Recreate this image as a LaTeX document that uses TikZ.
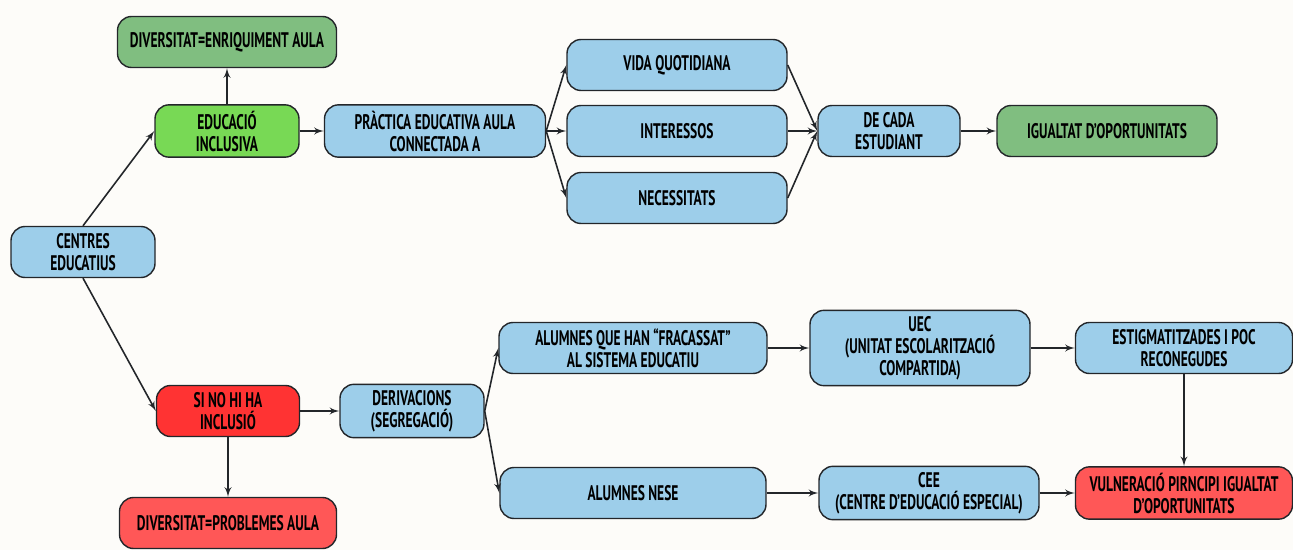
\documentclass[tikz,border=0pt]{standalone}
\usepackage{fontspec}
\newfontfamily\handfont{PT Sans}[FakeStretch=0.64]
\usetikzlibrary{shapes}
\usetikzlibrary{arrows}
\definecolor{paper}{RGB}{253,252,249}
\definecolor{skyblue}{RGB}{157,206,234}
\definecolor{moss}{RGB}{128,190,128}
\definecolor{lime}{RGB}{120,217,85}
\definecolor{alarm}{RGB}{255,51,51}
\definecolor{salmon}{RGB}{255,87,87}
\definecolor{edge}{RGB}{35,38,42}
\tikzstyle{block} = [rectangle, draw=edge, fill=skyblue, line width=0.8pt,
    text centered, align=center, rounded corners=8pt, minimum height=1.02cm,
    minimum width=4.4cm, font=\handfont\bfseries\fontsize{12}{12.5}\selectfont]
\tikzstyle{greenblock} = [block, fill=moss]
\tikzstyle{limeblock} = [block, fill=lime]
\tikzstyle{redblock} = [block, fill=alarm]
\tikzstyle{pinkblock} = [block, fill=salmon]
\tikzstyle{line} = [draw, -latex', line width=0.9pt, edge]

\begin{document}
\begin{tikzpicture}[node distance = 4cm, auto]
    \fill [paper] (0,0) rectangle (25.86,-11);
    \useasboundingbox (0,0) rectangle (25.86,-11);
    % Place nodes
    \node [block, minimum width=2.88cm] (centres) at (1.66,-5.04) {CENTRES\\EDUCATIUS};
    \node [limeblock, minimum width=2.88cm] (edinc) at (4.54,-2.62) {EDUCACIÓ\\INCLUSIVA};
    \node [greenblock, above of=edinc, node distance=1.78cm, minimum width=4.38cm] (divenr) {DIVERSITAT=ENRIQUIMENT AULA};
    \node [block, right of=edinc, node distance=4.16cm, minimum width=4.42cm] (practica) {PRÀCTICA EDUCATIVA AULA\\CONNECTADA A};
    \node [block, right of=practica, node distance=4.84cm] (interessos) {INTERESSOS};
    \node [block, above of=interessos, node distance=1.32cm] (vida) {VIDA QUOTIDIANA};
    \node [block, below of=interessos, node distance=1.34cm] (necessitats) {NECESSITATS};
    \node [block, right of=interessos, node distance=4.24cm, minimum width=2.84cm] (cada) {DE CADA\\ESTUDIANT};
    \node [greenblock, right of=cada, node distance=4.36cm] (igualtat) {IGUALTAT D’OPORTUNITATS};
    \node [redblock, minimum width=2.86cm] (sinohi) at (4.56,-8.22) {SI NO HI HA\\INCLUSIÓ};
    \node [pinkblock, below of=sinohi, node distance=2.24cm, minimum width=4.34cm] (divprob) {DIVERSITAT=PROBLEMES AULA};
    \node [block, right of=sinohi, node distance=3.68cm, minimum width=2.88cm] (derivacions) {DERIVACIONS\\(SEGREGACIÓ)};
    \node [block, minimum width=5.36cm] (fracassat) at (12.66,-6.96) {ALUMNES QUE HAN “FRACASSAT”\\AL SISTEMA EDUCATIU};
    \node [block, below of=fracassat, node distance=2.9cm, minimum width=5.32cm] (nese) {ALUMNES NESE};
    \node [block, right of=fracassat, node distance=5.74cm, minimum height=1.48cm] (uec) {UEC\\(UNITAT ESCOLARITZACIÓ\\COMPARTIDA)};
    \node [block, right of=nese, node distance=5.92cm] (cee) {CEE\\(CENTRE D’EDUCACIÓ ESPECIAL)};
    \node [block, right of=uec, node distance=5.28cm, minimum width=4.34cm] (estig) {ESTIGMATITZADES I POC\\RECONEGUDES};
    \node [pinkblock, below of=estig, node distance=2.9cm, minimum width=4.34cm] (vulner) {VULNERACIÓ PIRNCIPI IGUALTAT\\D’OPORTUNITATS};
    % Draw edges
    \path [line] (centres.north) -- (edinc.west);
    \path [line] (centres.south) -- (sinohi.west);
    \path [line] (edinc) -- (divenr);
    \path [line] (edinc) -- (practica);
    \path [line] (practica.east) -- (vida.west);
    \path [line] (practica.east) -- (interessos.west);
    \path [line] (practica.east) -- (necessitats.west);
    \path [line] (vida.east) -- (cada.west);
    \path [line] (interessos.east) -- (cada.west);
    \path [line] (necessitats.east) -- (cada.west);
    \path [line] (cada) -- (igualtat);
    \path [line] (sinohi) -- (derivacions);
    \path [line] (sinohi) -- (divprob);
    \path [line] (derivacions.east) -- (fracassat.west);
    \path [line] (derivacions.east) -- (nese.west);
    \path [line] (fracassat) -- (uec);
    \path [line] (nese) -- (cee);
    \path [line] (uec) -- (estig);
    \path [line] (cee) -- (vulner);
    \path [line] (estig) -- (vulner);
\end{tikzpicture}
\end{document}
